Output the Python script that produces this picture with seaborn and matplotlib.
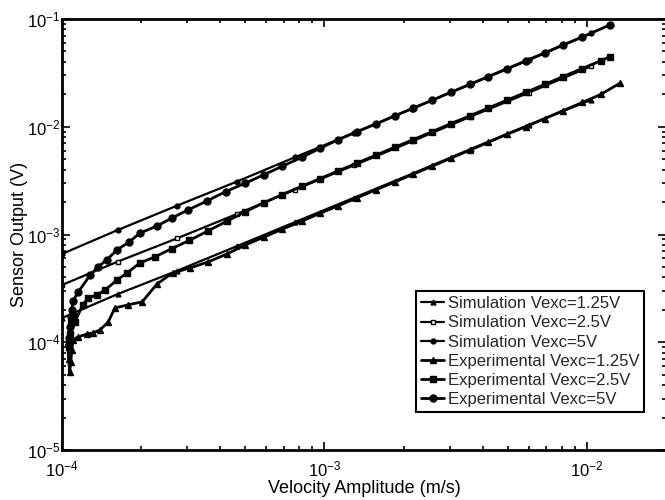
import numpy as np
import pandas as pd
import matplotlib
matplotlib.use("Agg")
import matplotlib.pyplot as plt
import seaborn as sns
from matplotlib.ticker import LogLocator, LogFormatterMathtext, NullFormatter

# ---- data ----
sim_x = [1.0e-4, 1.63e-4, 2.74e-4, 4.64e-4, 7.7e-4, 1.3e-3, 2.15e-3, 3.6e-3, 6.0e-3, 1.04e-2]
sim125_y = [1.68e-4, 2.8e-4, 4.6e-4, 7.8e-4, 1.3e-3, 2.2e-3, 3.65e-3, 6.2e-3, 1.04e-2, 1.78e-2]
sim25_y = [3.4e-4, 5.6e-4, 9.2e-4, 1.55e-3, 2.6e-3, 4.4e-3, 7.3e-3, 1.24e-2, 2.07e-2, 3.65e-2]
sim5_y = [6.6e-4, 1.1e-3, 1.85e-3, 3.1e-3, 5.2e-3, 8.8e-3, 1.47e-2, 2.48e-2, 4.15e-2, 7.4e-2]

exp125_x = [1.05e-4, 1.06e-4, 1.07e-4, 1.08e-4, 1.09e-4, 1.1e-4, 1.15e-4, 1.245e-4, 1.31e-4,
            1.395e-4, 1.5e-4, 1.59e-4, 1.78e-4, 2.02e-4, 2.3e-4, 2.64e-4, 3.07e-4, 3.6e-4,
            4.25e-4, 5.0e-4, 5.9e-4, 6.9e-4, 8.2e-4, 9.6e-4, 1.13e-3, 1.33e-3, 1.57e-3,
            1.85e-3, 2.18e-3, 2.57e-3, 3.03e-3, 3.57e-3, 4.2e-3, 4.95e-3, 5.85e-3, 6.9e-3,
            8.1e-3, 9.6e-3, 1.13e-2, 1.34e-2]
exp125_y = [1.0e-4, 7.0e-5, 5.3e-5, 6.5e-5, 8.5e-5, 1.05e-4, 1.12e-4, 1.19e-4, 1.22e-4,
            1.3e-4, 1.54e-4, 2.08e-4, 2.22e-4, 2.37e-4, 3.47e-4, 4.4e-4, 4.89e-4, 5.56e-4,
            6.6e-4, 8.0e-4, 9.5e-4, 1.12e-3, 1.33e-3, 1.57e-3, 1.85e-3, 2.19e-3, 2.6e-3,
            3.07e-3, 3.63e-3, 4.3e-3, 5.1e-3, 6.05e-3, 7.15e-3, 8.5e-3, 1.0e-2, 1.19e-2,
            1.41e-2, 1.68e-2, 2.0e-2, 2.55e-2]

exp25_x = [1.06e-4, 1.07e-4, 1.08e-4, 1.1e-4, 1.12e-4, 1.2e-4, 1.256e-4, 1.36e-4, 1.46e-4,
           1.62e-4, 1.77e-4, 1.98e-4, 2.26e-4, 2.62e-4, 3.05e-4, 3.6e-4, 4.25e-4, 5.0e-4,
           5.9e-4, 6.9e-4, 8.2e-4, 9.6e-4, 1.13e-3, 1.33e-3, 1.57e-3, 1.85e-3, 2.18e-3,
           2.57e-3, 3.03e-3, 3.57e-3, 4.2e-3, 4.95e-3, 5.85e-3, 6.9e-3, 8.1e-3, 9.6e-3,
           1.13e-2, 1.22e-2]
exp25_y = [9.0e-5, 1.2e-4, 1.5e-4, 1.8e-4, 1.55e-4, 2.22e-4, 2.58e-4, 2.75e-4, 3.06e-4,
           3.78e-4, 4.4e-4, 5.44e-4, 6.2e-4, 7.4e-4, 8.8e-4, 1.08e-3, 1.33e-3, 1.63e-3,
           1.98e-3, 2.35e-3, 2.8e-3, 3.3e-3, 3.9e-3, 4.6e-3, 5.45e-3, 6.45e-3, 7.6e-3,
           9.0e-3, 1.07e-2, 1.26e-2, 1.49e-2, 1.76e-2, 2.09e-2, 2.47e-2, 2.92e-2, 3.47e-2,
           4.1e-2, 4.45e-2]

exp5_x = [1.06e-4, 1.07e-4, 1.08e-4, 1.09e-4, 1.1e-4, 1.15e-4, 1.28e-4, 1.37e-4, 1.48e-4,
          1.62e-4, 1.8e-4, 1.98e-4, 2.3e-4, 2.62e-4, 3.02e-4, 3.57e-4, 4.2e-4, 5.0e-4,
          5.9e-4, 6.9e-4, 8.2e-4, 9.6e-4, 1.13e-3, 1.33e-3, 1.57e-3, 1.85e-3, 2.18e-3,
          2.57e-3, 3.03e-3, 3.57e-3, 4.2e-3, 4.95e-3, 5.85e-3, 6.9e-3, 8.1e-3, 9.6e-3,
          1.22e-2]
exp5_y = [1.1e-4, 1.4e-4, 1.7e-4, 2.0e-4, 2.4e-4, 2.9e-4, 4.2e-4, 5.0e-4, 5.8e-4,
          7.2e-4, 8.5e-4, 1.03e-3, 1.2e-3, 1.42e-3, 1.69e-3, 2.05e-3, 2.5e-3, 3.0e-3,
          3.6e-3, 4.3e-3, 5.2e-3, 6.3e-3, 7.6e-3, 9.0e-3, 1.06e-2, 1.26e-2, 1.49e-2,
          1.76e-2, 2.09e-2, 2.47e-2, 2.92e-2, 3.45e-2, 4.1e-2, 4.85e-2, 5.75e-2, 6.8e-2,
          8.8e-2]

labels = ["Simulation Vexc=1.25V", "Simulation Vexc=2.5V", "Simulation Vexc=5V",
          "Experimental Vexc=1.25V", "Experimental Vexc=2.5V", "Experimental Vexc=5V"]

x_label = "Velocity Amplitude (m/s)"
y_label = "Sensor Output (V)"

# ---- style ----
sns.set_style("ticks")
plt.rcParams["font.family"] = ["Liberation Sans", "DejaVu Sans"]
plt.rcParams["mathtext.fontset"] = "custom"
plt.rcParams["mathtext.rm"] = "Liberation Sans"
plt.rcParams["mathtext.it"] = "Liberation Sans"

fig = plt.figure(figsize=(6.65, 5.0), dpi=100)
ax = fig.add_axes([62 / 665, 50 / 500, 604 / 665, 431 / 500])

series = [
    (sim_x, sim125_y, "^", 3.5, "k", 1.6),
    (sim_x, sim25_y, "s", 3.5, "white", 1.6),
    (sim_x, sim5_y, "o", 3.5, "k", 1.6),
    (exp125_x, exp125_y, "^", 5, "k", 2.0),
    (exp25_x, exp25_y, "s", 5, "k", 2.0),
    (exp5_x, exp5_y, "o", 5, "k", 2.0),
]

for (xs, ys, mk, ms, mfc, lw), lab in zip(series, labels):
    df = pd.DataFrame({"x": xs, "y": ys})
    sns.lineplot(data=df, x="x", y="y", ax=ax, color="k", marker=mk,
                 markersize=ms, markerfacecolor=mfc, markeredgecolor="k",
                 markeredgewidth=1.0, linewidth=lw, sort=False,
                 estimator=None, label=lab)

ax.set_xscale("log")
ax.set_yscale("log")
ax.set_xlim(1e-4, 2e-2)
ax.set_ylim(1e-5, 1e-1)

ax.xaxis.set_major_locator(LogLocator(base=10, numticks=10))
ax.yaxis.set_major_locator(LogLocator(base=10, numticks=10))
ax.xaxis.set_minor_locator(LogLocator(base=10, subs=np.arange(2, 10), numticks=20))
ax.yaxis.set_minor_locator(LogLocator(base=10, subs=np.arange(2, 10), numticks=20))
ax.xaxis.set_major_formatter(LogFormatterMathtext())
ax.yaxis.set_major_formatter(LogFormatterMathtext())
ax.xaxis.set_minor_formatter(NullFormatter())
ax.yaxis.set_minor_formatter(NullFormatter())

ax.tick_params(which="both", direction="in", top=True, right=True, colors="k",
               labelsize=12, width=1.2)
ax.tick_params(which="major", length=6)
ax.tick_params(which="minor", length=3)
ax.tick_params(axis="x", which="major", pad=7)
ax.tick_params(axis="y", which="major", pad=1)
for sp in ax.spines.values():
    sp.set_linewidth(2.0)
    sp.set_color("k")

ax.set_xlabel(x_label, fontsize=13, color="k", labelpad=0)
ax.set_ylabel(y_label, fontsize=13, color="k")
ax.yaxis.set_label_coords(-0.057, 0.5)

leg = ax.legend(loc="lower left", bbox_to_anchor=(0.586, 0.088), borderaxespad=0,
                fontsize=12, frameon=True, fancybox=False, handlelength=1.4,
                handletextpad=0.2, labelspacing=0.25, borderpad=0.3)
leg.get_frame().set_edgecolor("k")
leg.get_frame().set_linewidth(1.5)
leg.get_frame().set_facecolor("white")
leg.get_frame().set_alpha(1)

fig.savefig("out.png", dpi=100)
